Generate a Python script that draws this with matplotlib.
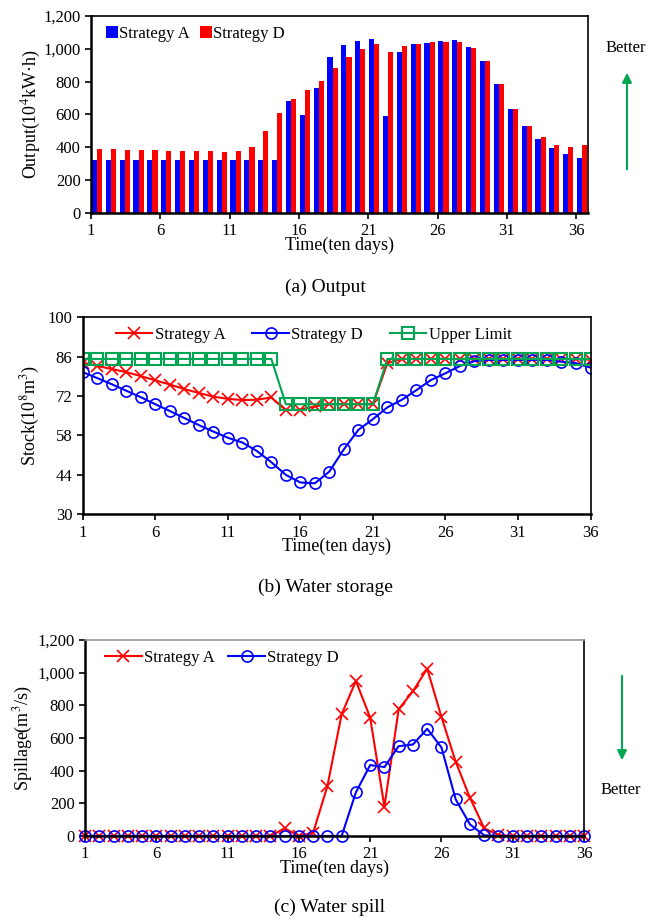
import numpy as np
import matplotlib
matplotlib.use('Agg')
from matplotlib import pyplot as plt
from matplotlib.patches import FancyArrowPatch
from matplotlib.ticker import FuncFormatter

plt.rcParams['font.family'] = ['Liberation Serif', 'DejaVu Serif']
plt.rcParams['mathtext.fontset'] = 'stix'
plt.rcParams['font.size'] = 12

periods = np.arange(1, 37)
tick_pos = [1, 6, 11, 16, 21, 26, 31, 36]

# (a) output, 10^4 kW.h
output_a = [325, 321, 321, 321, 321, 321, 321, 321, 321, 321, 321, 321,
            321, 325, 681, 594, 759, 952, 1023, 1045, 1060, 588, 978, 1027,
            1037, 1047, 1052, 1011, 923, 787, 631, 527, 450, 395, 360, 334]
output_d = [388, 388, 386, 386, 382, 380, 380, 376, 376, 374, 380, 403,
            498, 610, 694, 749, 803, 885, 952, 999, 1029, 978, 1015, 1029,
            1043, 1041, 1039, 1003, 923, 787, 631, 527, 462, 417, 401, 413]

# (b) water storage, 10^8 m3
stock_a = [83.9, 82.7, 81.6, 80.5, 79.1, 77.6, 76.1, 74.5, 73.1, 71.8,
           71.0, 70.6, 70.7, 71.5, 67.0, 67.2, 68.3, 69.1, 69.1, 69.1,
           69.1, 83.7, 85.2, 85.2, 85.2, 85.2, 85.2, 85.2, 85.2, 85.2,
           85.2, 85.2, 85.2, 85.2, 85.2, 84.9]
stock_d = [80.5, 78.4, 76.2, 73.9, 71.6, 69.1, 66.7, 64.2, 61.7, 59.4,
           57.2, 55.5, 52.5, 48.5, 44.0, 41.3, 41.0, 45.2, 53.1, 60.0,
           63.8, 68.0, 70.7, 74.1, 77.7, 80.1, 82.7, 84.4, 84.8, 84.8,
           84.8, 84.8, 84.8, 84.2, 83.7, 82.1]
upper_limit = [85.2, 85.2, 85.2, 85.2, 85.2, 85.2, 85.2, 85.2, 85.2, 85.2,
               85.2, 85.2, 85.2, 85.2, 69.1, 69.1, 69.1, 69.1, 69.1, 69.1,
               69.1, 85.2, 85.2, 85.2, 85.2, 85.2, 85.2, 85.2, 85.2, 85.2,
               85.2, 85.2, 85.2, 85.2, 85.2, 85.2]

# (c) water spill, m3/s
spill_a = [0, 0, 0, 0, 0, 0, 0, 0, 0, 0, 0, 0, 0, 0, 47, 0, 20, 305,
           745, 949, 725, 179, 776, 886, 1024, 729, 454, 234, 47, 6,
           0, 0, 0, 0, 0, 0]
spill_d = [0, 0, 0, 0, 0, 0, 0, 0, 0, 0, 0, 0, 0, 0, 0, 0, 0, 0,
           0, 267, 434, 422, 550, 560, 656, 542, 224, 71, 4, 0,
           0, 0, 0, 0, 0, 0]

GREEN = '#00A651'


def style_axes(ax):
    for s in ['left', 'bottom']:
        ax.spines[s].set_linewidth(1.8)
    for s in ['top', 'right']:
        ax.spines[s].set_linewidth(1.2)
    ax.tick_params(direction='out', length=4, width=1.2, labelsize=12)
    ax.set_xticks(tick_pos)
    ax.set_xlabel('Time(ten days)', fontsize=13, labelpad=-2)


comma = FuncFormatter(lambda v, p: '{:,.0f}'.format(v))

fig = plt.figure(figsize=(6.62, 9.22), dpi=100)

# ---- (a) Output ----
ax1 = fig.add_axes([0.1375, 0.769, 0.751, 0.2137])
w = 0.37
ax1.bar(periods + 0.06, output_a, width=w, align='edge', color='#0000FF',
        label='Strategy A')
ax1.bar(periods + 0.06 + w, output_d, width=w, align='edge', color='#FF0000',
        label='Strategy D')
ax1.set_xlim(1, 36.87)
ax1.set_ylim(0, 1200)
ax1.set_yticks(np.arange(0, 1201, 200))
ax1.yaxis.set_major_formatter(comma)
ax1.set_ylabel('Output(10$^4$kW·h)', fontsize=13, labelpad=0)
style_axes(ax1)
ax1.legend(loc='upper left', ncol=2, frameon=False, fontsize=12,
           handlelength=0.7, handleheight=0.7, handletextpad=0.1,
           columnspacing=0.6, borderaxespad=0.2, bbox_to_anchor=(0.01, 1.0))

# ---- (b) Water storage ----
ax2 = fig.add_axes([0.125, 0.4422, 0.767, 0.2137])
ax2.plot(periods, stock_a, color='#FF0000', marker='x', markersize=8,
         markeredgewidth=1.2, linewidth=1.5, label='Strategy A')
ax2.plot(periods, stock_d, color='#0000FF', marker='o', markersize=8,
         markerfacecolor='none', markeredgewidth=1.2, linewidth=1.5,
         label='Strategy D')
ax2.plot(periods, upper_limit, color=GREEN, marker='s', markersize=8,
         markerfacecolor='none', markeredgewidth=1.5, linewidth=1.5,
         label='Upper Limit')
ax2.set_xlim(1, 36)
ax2.set_ylim(30, 100)
ax2.set_yticks([30, 44, 58, 72, 86, 100])
ax2.set_ylabel('Stock(10$^8$m$^3$)', fontsize=13, labelpad=4)
style_axes(ax2)
ax2.legend(loc='upper left', ncol=3, frameon=False, fontsize=12,
           handlelength=2.2, handletextpad=0.15, columnspacing=1.6,
           borderaxespad=0.2, bbox_to_anchor=(0.045, 1.0))

# ---- (c) Water spill ----
ax3 = fig.add_axes([0.1284, 0.0933, 0.7538, 0.2126])
ax3.plot(periods, spill_a, color='#FF0000', marker='x', markersize=8,
         markeredgewidth=1.2, linewidth=1.5, label='Strategy A', clip_on=False)
ax3.plot(periods, spill_d, color='#0000FF', marker='o', markersize=8,
         markerfacecolor='none', markeredgewidth=1.2, linewidth=1.5,
         label='Strategy D', clip_on=False)
ax3.set_xlim(1, 36)
ax3.set_ylim(0, 1200)
ax3.set_yticks(np.arange(0, 1201, 200))
ax3.yaxis.set_major_formatter(comma)
ax3.set_ylabel('Spillage(m$^3$/s)', fontsize=13, labelpad=2)
style_axes(ax3)
ax3.spines['top'].set_color('#999999')
ax3.legend(loc='upper left', ncol=2, frameon=False, fontsize=12,
           handlelength=2.2, handletextpad=0.15, columnspacing=0.8,
           borderaxespad=0.2, bbox_to_anchor=(0.02, 1.0))

# captions
fig.text(325 / 662, 1 - 287 / 922, '(a) Output', ha='center', va='center',
         fontsize=14)
fig.text(325 / 662, 1 - 587 / 922, '(b) Water storage', ha='center',
         va='center', fontsize=14)
fig.text(330 / 662, 1 - 907 / 922, '(c) Water spill', ha='center',
         va='center', fontsize=14)

# "Better" arrows
fig.text(626 / 662, 1 - 48 / 922, 'Better', ha='center', va='center',
         fontsize=12)
fig.patches.append(FancyArrowPatch(
    (627 / 662, 1 - 172 / 922), (627 / 662, 1 - 70 / 922),
    transform=fig.transFigure, arrowstyle='-|>', mutation_scale=14,
    color=GREEN, linewidth=1.5))
fig.text(621 / 662, 1 - 790 / 922, 'Better', ha='center', va='center',
         fontsize=12)
fig.patches.append(FancyArrowPatch(
    (622 / 662, 1 - 673 / 922), (622 / 662, 1 - 763 / 922),
    transform=fig.transFigure, arrowstyle='-|>', mutation_scale=14,
    color=GREEN, linewidth=1.5))

fig.savefig('out.png', dpi=100)
